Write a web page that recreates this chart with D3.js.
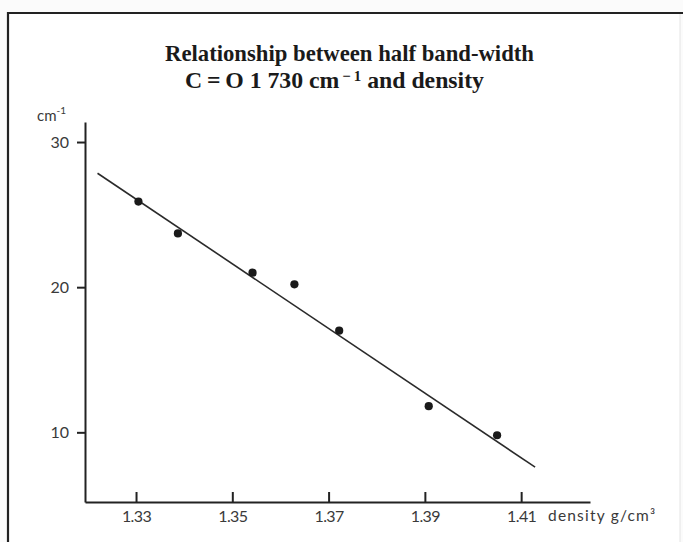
<!DOCTYPE html>
<html>
<head>
<meta charset="utf-8">
<script src="https://cdn.jsdelivr.net/npm/d3@7"></script>
<style>
  html, body { margin: 0; padding: 0; background: #fbfbfb; }
  svg { display: block; }
</style>
</head>
<body>
<div id="chart"></div>
<script>
// Measured points
const density = [1.3305, 1.3387, 1.3542, 1.3629, 1.3722, 1.3908, 1.4050];
const halfWidth = [25.9, 23.7, 21.0, 20.2, 17.0, 11.8, 9.8];

// Fitted line end points
const fitDensity = [1.322, 1.4129];
const fitWidth = [27.85, 7.6];

const xTicks = [1.33, 1.35, 1.37, 1.39, 1.41];
const xTickLabels = ["1.33", "1.35", "1.37", "1.39", "1.41"];
const yTicks = [10, 20, 30];

const width = 683, height = 542;

const svg = d3.select("#chart")
  .append("svg")
  .attr("width", width)
  .attr("height", height);

// Frame
svg.append("rect").attr("x", 8).attr("y", 13).attr("width", 672).attr("height", 540)
  .attr("fill", "#ffffff");
svg.append("path")
  .attr("d", "M8,545 L8,13 L683,13")
  .attr("fill", "none").attr("stroke", "#222").attr("stroke-width", 2.2);
svg.append("line").attr("x1", 680).attr("x2", 680).attr("y1", 14).attr("y2", 542)
  .attr("stroke", "#e4e4e4").attr("stroke-width", 1);

// Title
const title = svg.append("g")
  .attr("font-family", "'Liberation Serif', 'Times New Roman', serif")
  .attr("font-weight", "bold")
  .attr("font-size", 24)
  .attr("fill", "#1a1a1a");

title.append("text")
  .attr("x", 165).attr("y", 61)
  .attr("textLength", 369).attr("lengthAdjust", "spacingAndGlyphs")
  .text("Relationship between half band-width");

const t2 = title.append("text")
  .attr("x", 185).attr("y", 88)
  .attr("textLength", 299).attr("lengthAdjust", "spacingAndGlyphs");
t2.append("tspan").text("C\u2009=\u2009O 1 730 cm");
t2.append("tspan").attr("dy", -7).attr("font-size", 15).text("\u2009\u2212\u20091");
t2.append("tspan").attr("dy", 7).text(" and density");

// Scales (domain spans the drawn axis length)
const x = d3.scaleLinear().domain([1.3194, 1.4243]).range([85, 590]);
const y = d3.scaleLinear().domain([5.2, 31.38]).range([502, 122]);

const tickFont = "Lato, 'Open Sans', sans-serif";

// Y axis
const yAxis = svg.append("g")
  .attr("transform", `translate(${x.range()[0]},0)`)
  .call(d3.axisLeft(y).tickValues(yTicks).tickSize(8).tickSizeOuter(0).tickPadding(8));

// X axis, ticks pointing up
const xAxis = svg.append("g")
  .attr("transform", `translate(0,${y.range()[0]})`)
  .call(d3.axisBottom(x).tickValues(xTicks).tickSize(-10).tickSizeOuter(0).tickPadding(9)
    .tickFormat((d, i) => xTickLabels[i]));

[yAxis, xAxis].forEach(g => {
  g.select(".domain").attr("stroke", "#222").attr("stroke-width", 2);
  g.selectAll(".tick line").attr("stroke", "#222").attr("stroke-width", 2);
  g.selectAll(".tick text")
    .attr("font-family", tickFont)
    .attr("font-size", 16)
    .attr("fill", "#3a3a3a");
});
xAxis.selectAll(".tick text").attr("letter-spacing", -0.6);

// Axis unit labels
const yLab = svg.append("text")
  .attr("x", 37).attr("y", 121)
  .attr("font-family", tickFont)
  .attr("font-size", 15).attr("fill", "#3a3a3a");
yLab.append("tspan").text("cm");
yLab.append("tspan").attr("dy", -7).attr("font-size", 10).text("-1");

svg.append("text")
  .attr("x", 548).attr("y", 521)
  .attr("font-family", tickFont)
  .attr("font-size", 15.5).attr("fill", "#3a3a3a")
  .attr("letter-spacing", 1.2)
  .text("density  g/cm\u00b3");

// Fitted line
const pts = fitDensity.map((d, i) => [d, fitWidth[i]]);
svg.append("path")
  .datum(pts)
  .attr("fill", "none")
  .attr("stroke", "#2a2a2a")
  .attr("stroke-width", 1.6)
  .attr("d", d3.line().x(d => x(d[0])).y(d => y(d[1])));

// Points
svg.selectAll(".pt")
  .data(density.map((d, i) => ({ d, w: halfWidth[i] })))
  .enter()
  .append("circle")
  .attr("class", "pt")
  .attr("cx", p => x(p.d))
  .attr("cy", p => y(p.w))
  .attr("r", 4.1)
  .attr("fill", "#1a1a1a");
</script>
</body>
</html>
